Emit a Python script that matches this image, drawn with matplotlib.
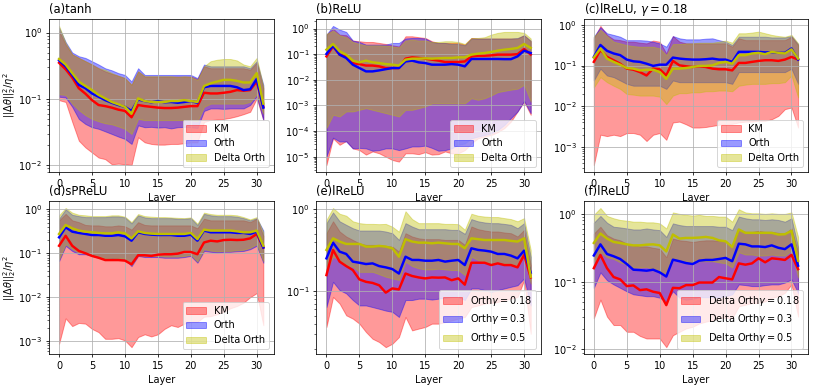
import numpy as np
import matplotlib
matplotlib.use("Agg")
from matplotlib import pyplot as plt

layers = np.arange(32)

# (a) tanh
a_km_mean = [0.35, 0.28, 0.21, 0.145, 0.12, 0.096, 0.081, 0.078, 0.074, 0.069, 0.066, 0.053, 0.081, 0.078, 0.076, 0.074,
             0.073, 0.073, 0.074, 0.076, 0.078, 0.078, 0.124, 0.121, 0.121, 0.124, 0.128, 0.136, 0.133, 0.136, 0.183, 0.076]
a_km_lo = [0.096, 0.09, 0.045, 0.0235, 0.0186, 0.0156, 0.0131, 0.0124, 0.0104, 0.0106, 0.0104, 0.0101, 0.0265, 0.0222, 0.021, 0.0205,
           0.0205, 0.021, 0.021, 0.0215, 0.0222, 0.0222, 0.045, 0.048, 0.049, 0.05, 0.052, 0.055, 0.059, 0.064, 0.102, 0.048]
a_km_hi = [1.06, 0.66, 0.47, 0.415, 0.37, 0.33, 0.29, 0.26, 0.24, 0.223, 0.206, 0.163, 0.26, 0.218, 0.218, 0.218,
           0.218, 0.218, 0.218, 0.218, 0.218, 0.2, 0.31, 0.29, 0.29, 0.29, 0.29, 0.29, 0.29, 0.275, 0.35, 0.145]
a_or_mean = [0.38, 0.31, 0.23, 0.163, 0.145, 0.121, 0.108, 0.096, 0.0875, 0.081, 0.076, 0.066, 0.098, 0.093, 0.089, 0.093,
             0.089, 0.09, 0.0875, 0.09, 0.093, 0.0875, 0.15, 0.157, 0.157, 0.157, 0.157, 0.15, 0.136, 0.14, 0.2, 0.074]
a_or_lo = [0.108, 0.105, 0.076, 0.05, 0.042, 0.0375, 0.0355, 0.0325, 0.0297, 0.0271, 0.025, 0.021, 0.04, 0.0375, 0.038, 0.037,
           0.0375, 0.036, 0.0375, 0.038, 0.0375, 0.0365, 0.066, 0.072, 0.072, 0.071, 0.072, 0.072, 0.072, 0.081, 0.11, 0.048]
a_or_hi = [1.19, 0.72, 0.5, 0.44, 0.415, 0.37, 0.33, 0.29, 0.27, 0.245, 0.23, 0.183, 0.29, 0.23, 0.23, 0.23,
           0.23, 0.23, 0.23, 0.23, 0.23, 0.206, 0.33, 0.31, 0.31, 0.31, 0.31, 0.31, 0.31, 0.29, 0.37, 0.163]
a_do_mean = [0.4, 0.33, 0.245, 0.183, 0.157, 0.136, 0.115, 0.102, 0.09, 0.083, 0.076, 0.06, 0.102, 0.093, 0.09, 0.09,
             0.09, 0.093, 0.093, 0.096, 0.093, 0.09, 0.157, 0.172, 0.183, 0.194, 0.194, 0.187, 0.177, 0.177, 0.245, 0.085]
a_do_lo = [0.118, 0.115, 0.085, 0.068, 0.057, 0.05, 0.046, 0.043, 0.0415, 0.0385, 0.0355, 0.0297, 0.05, 0.048, 0.048, 0.048,
           0.048, 0.048, 0.048, 0.048, 0.048, 0.046, 0.076, 0.085, 0.085, 0.085, 0.085, 0.085, 0.085, 0.09, 0.118, 0.06]
a_do_hi = [1.26, 0.7, 0.47, 0.415, 0.37, 0.33, 0.29, 0.275, 0.245, 0.223, 0.206, 0.163, 0.26, 0.22, 0.22, 0.22,
           0.22, 0.22, 0.215, 0.22, 0.215, 0.194, 0.31, 0.37, 0.39, 0.4, 0.4, 0.38, 0.33, 0.31, 0.415, 0.154]

# (b) ReLU
b_km_mean = [0.082, 0.2, 0.096, 0.082, 0.045, 0.041, 0.036, 0.036, 0.0335, 0.0288, 0.0288, 0.0288, 0.067, 0.075, 0.071, 0.067,
             0.061, 0.056, 0.0495, 0.0495, 0.0495, 0.052, 0.082, 0.087, 0.087, 0.09, 0.096, 0.096, 0.096, 0.1, 0.16, 0.096]
b_km_lo = [4.7e-6, 5.2e-5, 2.9e-5, 4.1e-5, 2.1e-5, 1.8e-5, 1.2e-5, 1.6e-5, 1.35e-5, 1.0e-5, 7.4e-6, 6.4e-6, 1.35e-5, 1.35e-5, 1.25e-5, 1.5e-5,
           1.2e-5, 1.25e-5, 1.6e-5, 1.35e-5, 1.35e-5, 1.8e-5, 3.3e-5, 5.2e-5, 6.1e-5, 7.0e-5, 9e-5, 1.3e-4, 2.35e-4, 5.8e-4, 1.4e-3, 4.3e-4]
b_km_hi = [0.58, 1.0, 0.58, 0.55, 0.34, 0.32, 0.3, 0.3, 0.275, 0.25, 0.222, 0.2, 0.5, 0.5, 0.46, 0.43,
           0.32, 0.275, 0.275, 0.275, 0.275, 0.236, 0.43, 0.41, 0.41, 0.41, 0.41, 0.41, 0.41, 0.41, 0.55, 0.32]
b_or_mean = [0.102, 0.216, 0.096, 0.071, 0.039, 0.0288, 0.0213, 0.0213, 0.0233, 0.026, 0.0288, 0.0288, 0.052, 0.056, 0.048, 0.045,
             0.039, 0.039, 0.039, 0.041, 0.039, 0.0335, 0.065, 0.065, 0.065, 0.065, 0.065, 0.064, 0.064, 0.082, 0.137, 0.111]
b_or_lo = [1.0e-5, 5.5e-5, 3.9e-5, 3.9e-5, 2.1e-5, 2.2e-5, 2.1e-5, 1.7e-5, 1.8e-5, 2.1e-5, 2.1e-5, 1.8e-5, 2.1e-5, 2.5e-5, 2.5e-5, 2.7e-5,
           2.2e-5, 1.7e-5, 1.8e-5, 2.1e-5, 2.9e-5, 3.3e-5, 5.2e-5, 6.1e-5, 7.0e-5, 8.2e-5, 1.1e-4, 1.74e-4, 3.2e-4, 5.8e-4, 1.5e-3, 5e-4]
b_or_hi = [0.58, 1.27, 0.91, 0.74, 0.34, 0.3, 0.236, 0.236, 0.236, 0.236, 0.275, 0.275, 0.41, 0.43, 0.43, 0.41,
           0.3, 0.275, 0.275, 0.25, 0.25, 0.222, 0.41, 0.41, 0.41, 0.41, 0.41, 0.41, 0.41, 0.43, 0.55, 0.34]
b_do_mean = [0.15, 0.25, 0.13, 0.096, 0.056, 0.048, 0.056, 0.048, 0.045, 0.041, 0.039, 0.036, 0.061, 0.067, 0.067, 0.069,
             0.067, 0.069, 0.071, 0.071, 0.075, 0.075, 0.096, 0.105, 0.111, 0.122, 0.137, 0.15, 0.16, 0.175, 0.25, 0.175]
b_do_lo = [1.3e-4, 4.3e-4, 3.7e-4, 5.8e-4, 5.8e-4, 6.7e-4, 7.8e-4, 6.7e-4, 5.8e-4, 5e-4, 4.3e-4, 3.7e-4, 6.7e-4, 6.7e-4, 7.8e-4, 9.1e-4,
           1.2e-3, 1.2e-3, 1.2e-3, 1.2e-3, 1.2e-3, 1.2e-3, 1.9e-3, 1.65e-3, 1.9e-3, 2.45e-3, 3.3e-3, 3.7e-3, 4.1e-3, 4.5e-3, 6.4e-3, 1.4e-3]
b_do_hi = [0.62, 0.83, 0.55, 0.46, 0.3, 0.25, 0.222, 0.222, 0.222, 0.216, 0.2, 0.185, 0.34, 0.37, 0.34, 0.34,
           0.3, 0.3, 0.32, 0.32, 0.3, 0.25, 0.43, 0.43, 0.46, 0.58, 0.68, 0.74, 0.74, 0.74, 0.68, 0.41]

# (c) lReLU, gamma = 0.18
c_km_mean = [0.123, 0.24, 0.163, 0.135, 0.111, 0.084, 0.079, 0.069, 0.057, 0.084, 0.081, 0.057, 0.13, 0.101, 0.096, 0.092,
             0.096, 0.092, 0.084, 0.081, 0.081, 0.076, 0.116, 0.116, 0.123, 0.13, 0.135, 0.135, 0.13, 0.14, 0.163, 0.14]
c_km_lo = [3.6e-4, 2.0e-3, 1.85e-3, 2.0e-3, 1.85e-3, 2.2e-3, 2.2e-3, 2.0e-3, 1.4e-3, 2.0e-3, 2.2e-3, 1.5e-3, 4.0e-3, 4.2e-3, 3.6e-3, 3.0e-3,
           3.0e-3, 3.1e-3, 3.3e-3, 3.5e-3, 3.6e-3, 3.7e-3, 4.0e-3, 4.2e-3, 4.2e-3, 4.4e-3, 4.4e-3, 4.8e-3, 5.8e-3, 8.5e-3, 9.3e-3, 3.0e-3]
c_km_hi = [0.466, 0.94, 0.565, 0.44, 0.42, 0.385, 0.385, 0.364, 0.35, 0.41, 0.385, 0.198, 0.53, 0.385, 0.35, 0.35,
           0.35, 0.35, 0.35, 0.35, 0.35, 0.29, 0.466, 0.42, 0.42, 0.42, 0.42, 0.42, 0.42, 0.42, 0.51, 0.318]
c_or_mean = [0.163, 0.32, 0.23, 0.198, 0.18, 0.14, 0.127, 0.123, 0.111, 0.098, 0.105, 0.105, 0.157, 0.148, 0.143, 0.14,
             0.14, 0.143, 0.148, 0.14, 0.14, 0.123, 0.217, 0.217, 0.217, 0.217, 0.21, 0.213, 0.205, 0.205, 0.263, 0.14]
c_or_lo = [0.043, 0.084, 0.057, 0.052, 0.043, 0.0355, 0.032, 0.032, 0.032, 0.032, 0.032, 0.0267, 0.043, 0.039, 0.039, 0.039,
           0.039, 0.039, 0.039, 0.039, 0.039, 0.0355, 0.069, 0.069, 0.069, 0.069, 0.069, 0.069, 0.069, 0.069, 0.084, 0.0355]
c_or_hi = [0.51, 0.875, 0.62, 0.565, 0.51, 0.42, 0.42, 0.42, 0.41, 0.385, 0.35, 0.29, 0.53, 0.466, 0.44, 0.44,
           0.44, 0.457, 0.466, 0.42, 0.385, 0.318, 0.51, 0.51, 0.51, 0.51, 0.51, 0.49, 0.49, 0.49, 0.53, 0.337]
c_do_mean = [0.157, 0.263, 0.148, 0.123, 0.105, 0.087, 0.084, 0.076, 0.079, 0.079, 0.069, 0.047, 0.084, 0.084, 0.087, 0.092,
             0.098, 0.098, 0.101, 0.116, 0.123, 0.111, 0.18, 0.18, 0.198, 0.205, 0.19, 0.217, 0.205, 0.198, 0.25, 0.148]
c_do_lo = [0.029, 0.052, 0.039, 0.032, 0.0267, 0.02, 0.0193, 0.0183, 0.0183, 0.0183, 0.0172, 0.0113, 0.0183, 0.021, 0.021, 0.022,
           0.022, 0.0234, 0.0234, 0.0243, 0.0243, 0.0234, 0.032, 0.034, 0.0355, 0.0355, 0.0355, 0.037, 0.037, 0.039, 0.057, 0.0165]
c_do_hi = [0.51, 0.75, 0.53, 0.385, 0.35, 0.318, 0.3, 0.29, 0.29, 0.29, 0.263, 0.18, 0.337, 0.337, 0.35, 0.35,
           0.364, 0.364, 0.364, 0.385, 0.41, 0.364, 0.62, 0.62, 0.645, 0.68, 0.62, 0.565, 0.53, 0.51, 0.565, 0.35]

# (d) sPReLU
d_km_mean = [0.148, 0.25, 0.148, 0.113, 0.1, 0.087, 0.079, 0.07, 0.07, 0.07, 0.068, 0.056, 0.09, 0.09, 0.087, 0.093,
             0.095, 0.095, 0.098, 0.107, 0.107, 0.095, 0.176, 0.193, 0.186, 0.2, 0.203, 0.2, 0.203, 0.218, 0.274, 0.135]
d_km_lo = [8.7e-4, 3.3e-3, 2.2e-3, 2.6e-3, 2.5e-3, 1.9e-3, 1.6e-3, 1.13e-3, 1.13e-3, 1.17e-3, 1.04e-3, 7.3e-4, 1.24e-3, 1.43e-3, 1.28e-3, 1.43e-3,
           1.9e-3, 2.3e-3, 2.1e-3, 2.5e-3, 2.75e-3, 2.75e-3, 3.6e-3, 3.7e-3, 4.1e-3, 4.7e-3, 5.6e-3, 6.3e-3, 7.5e-3, 0.01, 0.0124, 2.3e-3]
d_km_hi = [0.56, 0.79, 0.56, 0.51, 0.44, 0.43, 0.43, 0.41, 0.41, 0.43, 0.41, 0.345, 0.51, 0.44, 0.43, 0.43,
           0.43, 0.43, 0.43, 0.43, 0.43, 0.37, 0.61, 0.56, 0.56, 0.56, 0.56, 0.56, 0.56, 0.51, 0.61, 0.25]
d_or_mean = [0.23, 0.39, 0.31, 0.29, 0.275, 0.26, 0.26, 0.25, 0.25, 0.26, 0.243, 0.193, 0.3, 0.275, 0.265, 0.26,
             0.26, 0.26, 0.25, 0.25, 0.265, 0.193, 0.328, 0.3, 0.3, 0.3, 0.3, 0.29, 0.29, 0.275, 0.31, 0.135]
d_or_lo = [0.0665, 0.148, 0.113, 0.095, 0.095, 0.087, 0.079, 0.073, 0.075, 0.075, 0.073, 0.051, 0.087, 0.082, 0.082, 0.082,
           0.079, 0.079, 0.079, 0.082, 0.087, 0.061, 0.113, 0.108, 0.104, 0.108, 0.108, 0.111, 0.113, 0.124, 0.148, 0.061]
d_or_hi = [0.61, 1.0, 0.75, 0.7, 0.665, 0.665, 0.665, 0.665, 0.69, 0.69, 0.654, 0.48, 0.73, 0.654, 0.63, 0.63,
           0.63, 0.63, 0.61, 0.61, 0.63, 0.44, 0.79, 0.73, 0.7, 0.7, 0.7, 0.68, 0.63, 0.56, 0.63, 0.328]
d_do_mean = [0.275, 0.44, 0.37, 0.328, 0.31, 0.3, 0.29, 0.284, 0.284, 0.3, 0.284, 0.218, 0.316, 0.29, 0.28, 0.275,
             0.275, 0.275, 0.275, 0.275, 0.29, 0.21, 0.345, 0.328, 0.328, 0.328, 0.328, 0.316, 0.3, 0.3, 0.328, 0.148]
d_do_lo = [0.073, 0.161, 0.124, 0.104, 0.1, 0.09, 0.082, 0.078, 0.079, 0.078, 0.075, 0.055, 0.093, 0.087, 0.087, 0.087,
           0.084, 0.084, 0.084, 0.087, 0.092, 0.065, 0.124, 0.115, 0.111, 0.113, 0.113, 0.117, 0.12, 0.133, 0.161, 0.066]
d_do_hi = [0.73, 1.07, 0.84, 0.75, 0.73, 0.7, 0.7, 0.7, 0.73, 0.73, 0.68, 0.51, 0.78, 0.7, 0.68, 0.665,
           0.665, 0.654, 0.64, 0.63, 0.654, 0.47, 0.84, 0.78, 0.75, 0.75, 0.75, 0.73, 0.665, 0.59, 0.665, 0.3]

# (e) lReLU, Orth with gamma = 0.18 / 0.3 / 0.5
e_g1_mean = [0.157, 0.318, 0.229, 0.202, 0.181, 0.139, 0.13, 0.126, 0.118, 0.096, 0.108, 0.105, 0.164, 0.153, 0.147, 0.143,
             0.147, 0.146, 0.147, 0.136, 0.143, 0.12, 0.222, 0.222, 0.222, 0.208, 0.218, 0.208, 0.208, 0.195, 0.276, 0.147]
e_g1_lo = [0.0366, 0.085, 0.0706, 0.0508, 0.0463, 0.0402, 0.0318, 0.0263, 0.024, 0.0208, 0.0229, 0.0276, 0.0485, 0.0333, 0.035, 0.0366,
           0.0402, 0.0402, 0.042, 0.044, 0.0463, 0.0485, 0.064, 0.067, 0.0706, 0.072, 0.074, 0.078, 0.081, 0.085, 0.136, 0.0303]
e_g1_hi = [0.508, 0.71, 0.533, 0.463, 0.421, 0.383, 0.366, 0.366, 0.366, 0.356, 0.349, 0.303, 0.508, 0.463, 0.44, 0.43,
           0.43, 0.43, 0.421, 0.421, 0.421, 0.366, 0.613, 0.569, 0.548, 0.533, 0.533, 0.518, 0.508, 0.463, 0.558, 0.208]
e_g2_mean = [0.251, 0.39, 0.303, 0.284, 0.229, 0.222, 0.214, 0.218, 0.202, 0.195, 0.186, 0.164, 0.263, 0.24, 0.24, 0.235,
             0.235, 0.24, 0.229, 0.235, 0.24, 0.208, 0.333, 0.318, 0.312, 0.303, 0.284, 0.284, 0.271, 0.251, 0.312, 0.168]
e_g2_lo = [0.064, 0.13, 0.103, 0.094, 0.078, 0.067, 0.067, 0.064, 0.061, 0.058, 0.056, 0.0485, 0.078, 0.078, 0.081, 0.081,
           0.079, 0.081, 0.083, 0.085, 0.085, 0.078, 0.108, 0.108, 0.103, 0.098, 0.103, 0.108, 0.113, 0.118, 0.143, 0.067]
e_g2_hi = [0.674, 0.91, 0.71, 0.643, 0.585, 0.548, 0.548, 0.548, 0.548, 0.533, 0.508, 0.421, 0.674, 0.613, 0.569, 0.569,
           0.569, 0.569, 0.569, 0.558, 0.558, 0.499, 0.755, 0.71, 0.687, 0.674, 0.674, 0.66, 0.643, 0.585, 0.674, 0.263]
e_g3_mean = [0.318, 0.44, 0.402, 0.376, 0.376, 0.376, 0.349, 0.349, 0.356, 0.349, 0.333, 0.263, 0.43, 0.402, 0.39, 0.39,
             0.383, 0.39, 0.383, 0.376, 0.376, 0.333, 0.44, 0.43, 0.42, 0.42, 0.42, 0.42, 0.41, 0.402, 0.44, 0.15]
e_g3_lo = [0.181, 0.263, 0.24, 0.208, 0.199, 0.172, 0.172, 0.172, 0.161, 0.15, 0.143, 0.137, 0.229, 0.202, 0.19, 0.184,
           0.184, 0.188, 0.184, 0.181, 0.181, 0.157, 0.263, 0.24, 0.229, 0.222, 0.218, 0.218, 0.214, 0.199, 0.276, 0.124]
e_g3_hi = [0.74, 1.03, 0.877, 0.83, 0.71, 0.674, 0.66, 0.66, 0.655, 0.66, 0.61, 0.53, 0.94, 0.755, 0.674, 0.674,
           0.674, 0.674, 0.66, 0.66, 0.655, 0.56, 0.877, 0.83, 0.81, 0.8, 0.8, 0.776, 0.755, 0.71, 0.776, 0.318]

# (f) lReLU, Delta Orth with gamma = 0.18 / 0.3 / 0.5
f_g1_mean = [0.158, 0.248, 0.158, 0.117, 0.108, 0.086, 0.088, 0.075, 0.077, 0.071, 0.068, 0.045, 0.081, 0.08, 0.089, 0.089,
             0.097, 0.097, 0.097, 0.117, 0.112, 0.108, 0.186, 0.178, 0.186, 0.221, 0.193, 0.221, 0.216, 0.209, 0.248, 0.153]
f_g1_lo = [0.0288, 0.0543, 0.0305, 0.0229, 0.0229, 0.0182, 0.0182, 0.0158, 0.0145, 0.0145, 0.0145, 0.0108, 0.0162, 0.0182, 0.0204, 0.0216,
           0.0242, 0.0257, 0.0272, 0.0288, 0.0295, 0.0288, 0.0433, 0.0457, 0.0485, 0.0485, 0.0513, 0.0575, 0.061, 0.0685, 0.0912, 0.0305]
f_g1_hi = [0.513, 0.646, 0.484, 0.432, 0.407, 0.363, 0.343, 0.331, 0.331, 0.316, 0.305, 0.229, 0.432, 0.407, 0.398, 0.385,
           0.398, 0.407, 0.407, 0.398, 0.398, 0.331, 0.589, 0.543, 0.543, 0.562, 0.543, 0.543, 0.525, 0.513, 0.61, 0.272]
f_g2_mean = [0.243, 0.355, 0.256, 0.237, 0.216, 0.182, 0.15, 0.148, 0.145, 0.15, 0.137, 0.119, 0.211, 0.2, 0.188, 0.182,
             0.204, 0.209, 0.209, 0.216, 0.224, 0.2, 0.363, 0.355, 0.331, 0.331, 0.324, 0.343, 0.316, 0.302, 0.355, 0.172]
f_g2_lo = [0.081, 0.137, 0.105, 0.091, 0.081, 0.072, 0.065, 0.063, 0.061, 0.061, 0.058, 0.051, 0.072, 0.058, 0.054, 0.056,
           0.059, 0.059, 0.059, 0.059, 0.061, 0.065, 0.091, 0.089, 0.086, 0.086, 0.089, 0.091, 0.091, 0.097, 0.108, 0.068]
f_g2_hi = [0.741, 0.933, 0.741, 0.646, 0.631, 0.61, 0.589, 0.589, 0.61, 0.589, 0.575, 0.457, 0.724, 0.684, 0.661, 0.661,
           0.661, 0.661, 0.661, 0.646, 0.646, 0.575, 0.912, 0.861, 0.832, 0.832, 0.813, 0.832, 0.813, 0.767, 0.861, 0.324]
f_g3_mean = [0.372, 0.513, 0.432, 0.385, 0.372, 0.355, 0.343, 0.343, 0.351, 0.355, 0.343, 0.279, 0.496, 0.432, 0.442, 0.442,
             0.447, 0.457, 0.442, 0.407, 0.394, 0.324, 0.589, 0.525, 0.525, 0.525, 0.525, 0.525, 0.496, 0.501, 0.562, 0.204]
f_g3_lo = [0.193, 0.272, 0.229, 0.216, 0.193, 0.178, 0.162, 0.162, 0.166, 0.153, 0.145, 0.126, 0.216, 0.2, 0.193, 0.193,
           0.2, 0.2, 0.2, 0.193, 0.186, 0.162, 0.272, 0.251, 0.251, 0.243, 0.243, 0.251, 0.243, 0.243, 0.288, 0.115]
f_g3_hi = [0.966, 1.22, 0.933, 0.861, 0.813, 0.794, 0.767, 0.767, 0.75, 0.75, 0.724, 0.61, 1.05, 1.0, 0.966, 0.944,
           0.966, 0.933, 0.933, 0.912, 0.912, 0.767, 1.17, 1.05, 1.02, 1.02, 1.0, 1.02, 1.0, 1.0, 1.05, 0.457]

titles = ["(a)tanh", "(b)ReLU", "(c)lReLU, $\\gamma=0.18$", "(d)sPReLU", "(e)lReLU", "(f)lReLU"]
labels_init = ["KM", "Orth", "Delta Orth"]
labels_e = ["Orth$\\gamma=0.18$", "Orth$\\gamma=0.3$", "Orth$\\gamma=0.5$"]
labels_f = ["Delta Orth$\\gamma=0.18$", "Delta Orth$\\gamma=0.3$", "Delta Orth$\\gamma=0.5$"]
colors = ["r", "b", "y"]

panels = [
    [(a_km_mean, a_km_lo, a_km_hi), (a_or_mean, a_or_lo, a_or_hi), (a_do_mean, a_do_lo, a_do_hi)],
    [(b_km_mean, b_km_lo, b_km_hi), (b_or_mean, b_or_lo, b_or_hi), (b_do_mean, b_do_lo, b_do_hi)],
    [(c_km_mean, c_km_lo, c_km_hi), (c_or_mean, c_or_lo, c_or_hi), (c_do_mean, c_do_lo, c_do_hi)],
    [(d_km_mean, d_km_lo, d_km_hi), (d_or_mean, d_or_lo, d_or_hi), (d_do_mean, d_do_lo, d_do_hi)],
    [(e_g1_mean, e_g1_lo, e_g1_hi), (e_g2_mean, e_g2_lo, e_g2_hi), (e_g3_mean, e_g3_lo, e_g3_hi)],
    [(f_g1_mean, f_g1_lo, f_g1_hi), (f_g2_mean, f_g2_lo, f_g2_hi), (f_g3_mean, f_g3_lo, f_g3_hi)],
]
legend_labels = [labels_init] * 4 + [labels_e, labels_f]

fig, axes = plt.subplots(2, 3, figsize=(814 / 70, 387 / 70), dpi=70)
plt.subplots_adjust(left=0.06, right=0.993, top=0.951, bottom=0.085, wspace=0.19, hspace=0.19)

for i, ax in enumerate(axes.flat):
    for (mean, lo, hi), c, lab in zip(panels[i], colors, legend_labels[i]):
        ax.fill_between(layers, lo, hi, color=c, alpha=0.4, label=lab)
    for (mean, lo, hi), c in zip(panels[i], colors):
        ax.plot(layers, mean, color=c, linewidth=2.5)
    ax.set_yscale("log")
    ax.grid(True)
    ax.set_title(titles[i], loc="left")
    ax.set_xlabel("Layer")
    ax.legend(loc="lower right")
    if i % 3 == 0:
        ax.set_ylabel(r"$||\Delta\theta||_2^2/\eta^2$", labelpad=0)

plt.savefig("out.png", dpi=70)
